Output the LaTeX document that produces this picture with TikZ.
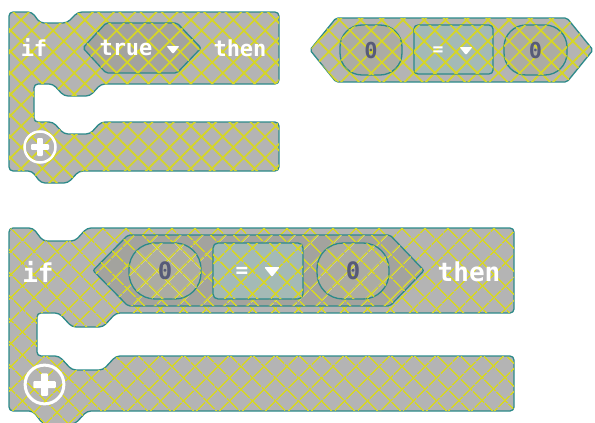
\documentclass[tikz,border=0pt]{standalone}
\usepackage{fontspec}
\setmonofont{DejaVu Sans Mono}
\usetikzlibrary{patterns.meta}

\definecolor{blockgray}{HTML}{B4B4B4}
\definecolor{hatch}{HTML}{D6D626}
\definecolor{edge}{HTML}{2C8A8A}
\definecolor{truegray}{HTML}{A3A39E}
\definecolor{slotgray}{HTML}{ACACA3}
\definecolor{opfill}{HTML}{A4BAB6}
\definecolor{zerocol}{HTML}{575B78}

\begin{document}
\begin{tikzpicture}[x=1pt, y=-1pt,
    hatched/.style 2 args={fill=#1,
      postaction={pattern={Lines[angle=45, distance=#2, line width=1.7pt]}, pattern color=hatch},
      postaction={pattern={Lines[angle=-45, distance=#2, line width=1.7pt]}, pattern color=hatch}},
    block/.style={draw=edge, line width=1.3pt, rounded corners=4pt},
    label/.style={text=white, font=\ttfamily\bfseries\fontsize{#1}{#1}\selectfont, inner sep=0pt},
    zero/.style={text=zerocol, font=\ttfamily\bfseries\fontsize{#1}{#1}\selectfont, inner sep=0pt},
    slot/.style={draw=edge, line width=1.3pt, inner sep=0pt},
    dropdown/.pic={\fill[white, rounded corners=1pt] (-6.5,-4) -- (6.5,-4) -- (0,4) -- cycle;},
    addicon/.pic={
      \draw[white] (0,0) circle (15.5);
      \fill[white, rounded corners=1pt] (-9,-2.8) rectangle (9,2.8);
      \fill[white, rounded corners=1pt] (-2.8,-9) rectangle (2.8,9);}]
  \useasboundingbox (0,0) rectangle (595,423);
  \clip (0,0) rectangle (595,423);

  % small if block
  \draw[block, hatched={blockgray}{15pt}] (9,12) -- (32,12) -- (40,23) -- (67,23) -- (78,12)
    -- (279,12) -- (279,84) -- (101,84) -- (90,96) -- (64,96) -- (53,84) -- (34,84)
    -- (34,122) -- (53,122) -- (64,134) -- (90,134) -- (101,122) -- (279,122)
    -- (279,171) -- (79,171) -- (68,183) -- (41,183) -- (32,171) -- (9,171) -- cycle;
  \draw[block, rounded corners=2pt, hatched={truegray}{15pt}] (83,48) -- (106,23) -- (177,23)
    -- (201,48) -- (177,73) -- (106,73) -- cycle;
  \node[label=22] (ifA)   at (34,48)  {if};
  \node[label=22] (trueA) at (126,48) {true};
  \node[label=22] (thenA) at (240,48) {then};
  \pic at (173,50) {dropdown};
  \pic[line width=2.5pt] at (40,147) {addicon};

  % compare block
  \draw[block, rounded corners=2pt, hatched={blockgray}{15pt}] (310,50) -- (336,18) -- (567,18)
    -- (593,50) -- (567,82) -- (336,82) -- cycle;
  \node[slot, rounded corners=22pt, hatched={slotgray}{15pt}, minimum width=62pt, minimum height=50pt] (lhsB) at (371,50) {};
  \node[slot, rounded corners=4pt, hatched={opfill}{15pt}, minimum width=79pt, minimum height=49pt] (opB) at (453.5,49.5) {};
  \node[slot, rounded corners=22pt, hatched={slotgray}{15pt}, minimum width=63pt, minimum height=50pt] (rhsB) at (535.5,50) {};
  \node[zero=22] (zeroB1) at (lhsB) {0};
  \node[zero=22] (zeroB2) at (rhsB) {0};
  \node[label=18] (eqB) at (438,51) {=};
  \pic at (466,51) {dropdown};

  % large if block with compare
  \draw[block, hatched={blockgray}{17pt}] (9,228) -- (33,228) -- (43,241) -- (75,241) -- (87,228)
    -- (514,228) -- (514,313) -- (116,313) -- (103,327) -- (72,327) -- (59,313) -- (37,313)
    -- (37,356) -- (59,356) -- (72,370) -- (103,370) -- (116,356) -- (514,356)
    -- (514,411) -- (87,411) -- (75,424) -- (43,424) -- (33,411) -- (9,411) -- cycle;
  \draw[block, rounded corners=2pt, hatched={truegray}{17pt}] (93,270.5) -- (128,235) -- (390,235)
    -- (424,270.5) -- (390,306) -- (128,306) -- cycle;
  \node[slot, rounded corners=26pt, hatched={slotgray}{17pt}, minimum width=72pt, minimum height=56pt] (lhsC) at (165,271) {};
  \node[slot, rounded corners=5pt, hatched={opfill}{17pt}, minimum width=90pt, minimum height=56pt] (opC) at (258,271) {};
  \node[slot, rounded corners=26pt, hatched={slotgray}{17pt}, minimum width=72pt, minimum height=56pt] (rhsC) at (353,271) {};
  \node[zero=24] (zeroC1) at (lhsC) {0};
  \node[zero=24] (zeroC2) at (rhsC) {0};
  \node[label=21] (eqC) at (242,272) {=};
  \pic[scale=1.2] at (272,272) {dropdown};
  \node[label=26] (ifC)   at (38,272)  {if};
  \node[label=26] (thenC) at (469,272) {then};
  \pic[scale=1.25, line width=3pt] at (44.5,384.5) {addicon};
\end{tikzpicture}
\end{document}
